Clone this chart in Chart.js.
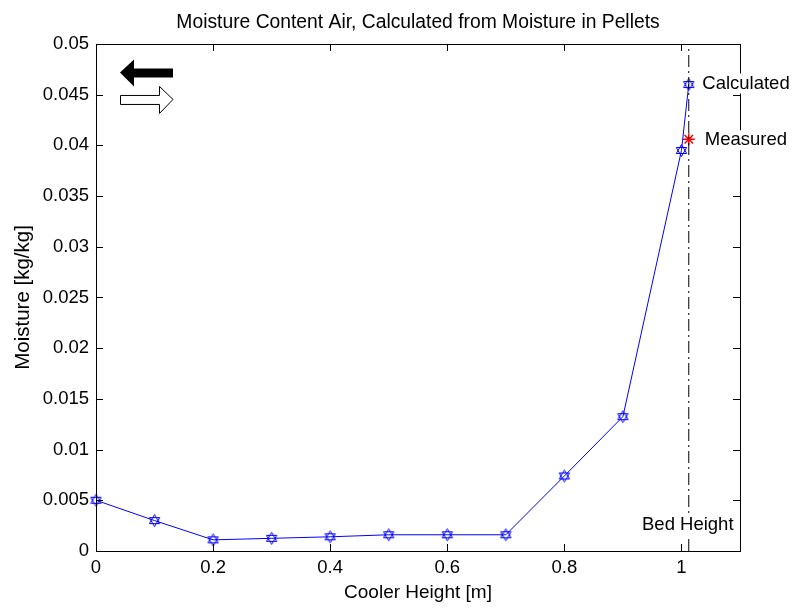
<!DOCTYPE html>
<html>
<head>
<meta charset="utf-8">
<script src="https://cdn.jsdelivr.net/npm/chart.js@4.4.1/dist/chart.umd.min.js"></script>
<style>
  html, body { margin: 0; padding: 0; background: #fff; }
  canvas { display: block; }
</style>
</head>
<body>
<canvas id="moisture-chart" width="792" height="608"></canvas>
<script>
// --- data ---
const heights = [0, 0.1, 0.2, 0.3, 0.4, 0.5, 0.6, 0.7, 0.8, 0.9, 1.0, 1.0125];
const calculated = [0.0050, 0.0030, 0.0011, 0.00125, 0.0014, 0.0016, 0.0016, 0.0016, 0.0074, 0.01325, 0.0395, 0.0460];
const measuredHeight = [1.0125];
const measured = [0.0406];
const bedHeight = 1.0125;

const xTicks = [0, 0.2, 0.4, 0.6, 0.8, 1];
const xTickLabels = ['0', '0.2', '0.4', '0.6', '0.8', '1'];
const yTicks = [0, 0.005, 0.01, 0.015, 0.02, 0.025, 0.03, 0.035, 0.04, 0.045, 0.05];
const yTickLabels = ['0', '0.005', '0.01', '0.015', '0.02', '0.025', '0.03', '0.035', '0.04', '0.045', '0.05'];

const FONT = "'Liberation Sans', Arial, sans-serif";
const FONT_SIZE = 18.5;

// six-pointed star marker (MATLAB 'h')
function hexagram(color, r) {
    const s = Math.ceil(2 * r + 3);
    const cv = document.createElement('canvas');
    cv.width = s; cv.height = s;
    const g = cv.getContext('2d');
    const c = s / 2;
    g.strokeStyle = color;
    g.lineWidth = 1;
    [-Math.PI / 2, Math.PI / 2].forEach(off => {
        g.beginPath();
        for (let k = 0; k < 3; k++) {
            const a = off + k * 2 * Math.PI / 3;
            const px = c + r * Math.cos(a), py = c + r * Math.sin(a);
            if (k) g.lineTo(px, py); else g.moveTo(px, py);
        }
        g.closePath();
        g.stroke();
    });
    return cv;
}

// box with inward ticks, arrows and text notes
const matlabAxes = {
    id: 'matlabAxes',
    afterDraw(chart) {
        const { ctx, chartArea: a, scales: { x, y } } = chart;
        ctx.save();
        ctx.strokeStyle = '#000';
        ctx.lineWidth = 1;
        ctx.strokeRect(Math.round(a.left) + 0.5, Math.round(a.top) + 0.5,
            Math.round(a.right - a.left), Math.round(a.bottom - a.top));
        const tl = 7;
        ctx.beginPath();
        xTicks.forEach(v => {
            const px = Math.round(x.getPixelForValue(v)) + 0.5;
            ctx.moveTo(px, a.bottom); ctx.lineTo(px, a.bottom - tl);
            ctx.moveTo(px, a.top); ctx.lineTo(px, a.top + tl);
        });
        yTicks.forEach(v => {
            const py = Math.round(y.getPixelForValue(v)) + 0.5;
            ctx.moveTo(a.left, py); ctx.lineTo(a.left + tl, py);
            ctx.moveTo(a.right, py); ctx.lineTo(a.right - tl, py);
        });
        ctx.stroke();

        // direction arrows (top left corner)
        const ox = a.left, oy = a.top;
        ctx.fillStyle = '#000';
        ctx.beginPath();
        ctx.moveTo(ox + 24, oy + 28.5);
        ctx.lineTo(ox + 38, oy + 15.5);
        ctx.lineTo(ox + 38, oy + 24.5);
        ctx.lineTo(ox + 77, oy + 24.5);
        ctx.lineTo(ox + 77, oy + 33.5);
        ctx.lineTo(ox + 38, oy + 33.5);
        ctx.lineTo(ox + 38, oy + 42.5);
        ctx.closePath();
        ctx.fill();

        ctx.fillStyle = '#fff';
        ctx.beginPath();
        ctx.moveTo(ox + 24.5, oy + 51.5);
        ctx.lineTo(ox + 63.5, oy + 51.5);
        ctx.lineTo(ox + 63.5, oy + 42.5);
        ctx.lineTo(ox + 77, oy + 55.5);
        ctx.lineTo(ox + 63.5, oy + 69.5);
        ctx.lineTo(ox + 63.5, oy + 60.5);
        ctx.lineTo(ox + 24.5, oy + 60.5);
        ctx.closePath();
        ctx.fill();
        ctx.stroke();

        // text notes with white background
        const notes = [
            { text: 'Calculated', px: x.getPixelForValue(bedHeight) + 13.5, py: y.getPixelForValue(calculated[calculated.length - 1]) - 1, align: 'left' },
            { text: 'Measured', px: x.getPixelForValue(measuredHeight[0]) + 16, py: y.getPixelForValue(measured[0]) + 1, align: 'left' },
            { text: 'Bed Height', px: x.getPixelForValue(bedHeight) - 1, py: y.getPixelForValue(0.00255), align: 'center' }
        ];
        ctx.font = FONT_SIZE + 'px ' + FONT;
        ctx.textBaseline = 'middle';
        notes.forEach(n => {
            const w = ctx.measureText(n.text).width;
            const left = n.align === 'left' ? n.px : n.px - w / 2;
            ctx.fillStyle = '#fff';
            ctx.fillRect(left - 2, n.py - 10, w + 4, 20);
            ctx.fillStyle = '#000';
            ctx.textAlign = 'left';
            ctx.fillText(n.text, left, n.py);
        });
        ctx.restore();
    }
};

const ctx = document.getElementById('moisture-chart').getContext('2d');
Chart.defaults.font.family = FONT;
Chart.defaults.font.size = FONT_SIZE;
Chart.defaults.color = '#000';

new Chart(ctx, {
    type: 'scatter',
    data: {
        datasets: [
            {
                label: 'Bed Height',
                data: [{ x: bedHeight, y: 0 }, { x: bedHeight, y: 0.05 }],
                showLine: true,
                borderColor: '#000',
                borderWidth: 1,
                borderDash: [12, 4, 2, 4],
                pointRadius: 0
            },
            {
                label: 'Calculated',
                data: heights.map((h, i) => ({ x: h, y: calculated[i] })),
                showLine: true,
                borderColor: '#0000ff',
                borderWidth: 1,
                pointStyle: hexagram('#0000ff', 6),
                pointRadius: 6
            },
            {
                label: 'Measured',
                data: measuredHeight.map((h, i) => ({ x: h, y: measured[i] })),
                borderColor: '#ff0000',
                backgroundColor: '#ff0000',
                borderWidth: 1.5,
                pointStyle: 'star',
                pointRadius: 6
            }
        ]
    },
    options: {
        responsive: false,
        animation: false,
        clip: false,
        layout: { padding: { left: 0, right: 52, top: 0, bottom: 0 } },
        plugins: {
            legend: { display: false },
            tooltip: { enabled: false },
            title: {
                display: true,
                fullSize: false,
                text: 'Moisture Content Air, Calculated from Moisture in Pellets',
                font: { size: 19.3, weight: 'normal', lineHeight: 1.2 },
                color: '#000',
                padding: { top: 11.4, bottom: 9.4 }
            }
        },
        scales: {
            x: {
                type: 'linear',
                min: 0,
                max: 1.1,
                afterBuildTicks: s => { s.ticks = xTicks.map(v => ({ value: v })); },
                afterFit: s => { s.height = 57; },
                grid: { display: false, drawTicks: false },
                border: { display: false },
                ticks: {
                    padding: 6,
                    maxRotation: 0,
                    callback: (v, i) => xTickLabels[i]
                },
                title: {
                    display: true,
                    text: 'Cooler Height [m]',
                    font: { size: 19, lineHeight: 1.2 },
                    padding: { top: 0, bottom: 4 }
                }
            },
            y: {
                type: 'linear',
                min: 0,
                max: 0.05,
                afterBuildTicks: s => { s.ticks = yTicks.map(v => ({ value: v })); },
                afterFit: s => { s.width = 96; },
                grid: { display: false, drawTicks: false },
                border: { display: false },
                ticks: {
                    padding: 7,
                    callback: (v, i) => yTickLabels[i]
                },
                title: {
                    display: true,
                    text: 'Moisture [kg/kg]',
                    font: { size: 20.5, lineHeight: 1.2 },
                    padding: { top: 11, bottom: 0 }
                }
            }
        }
    },
    plugins: [matlabAxes]
});
</script>
</body>
</html>
